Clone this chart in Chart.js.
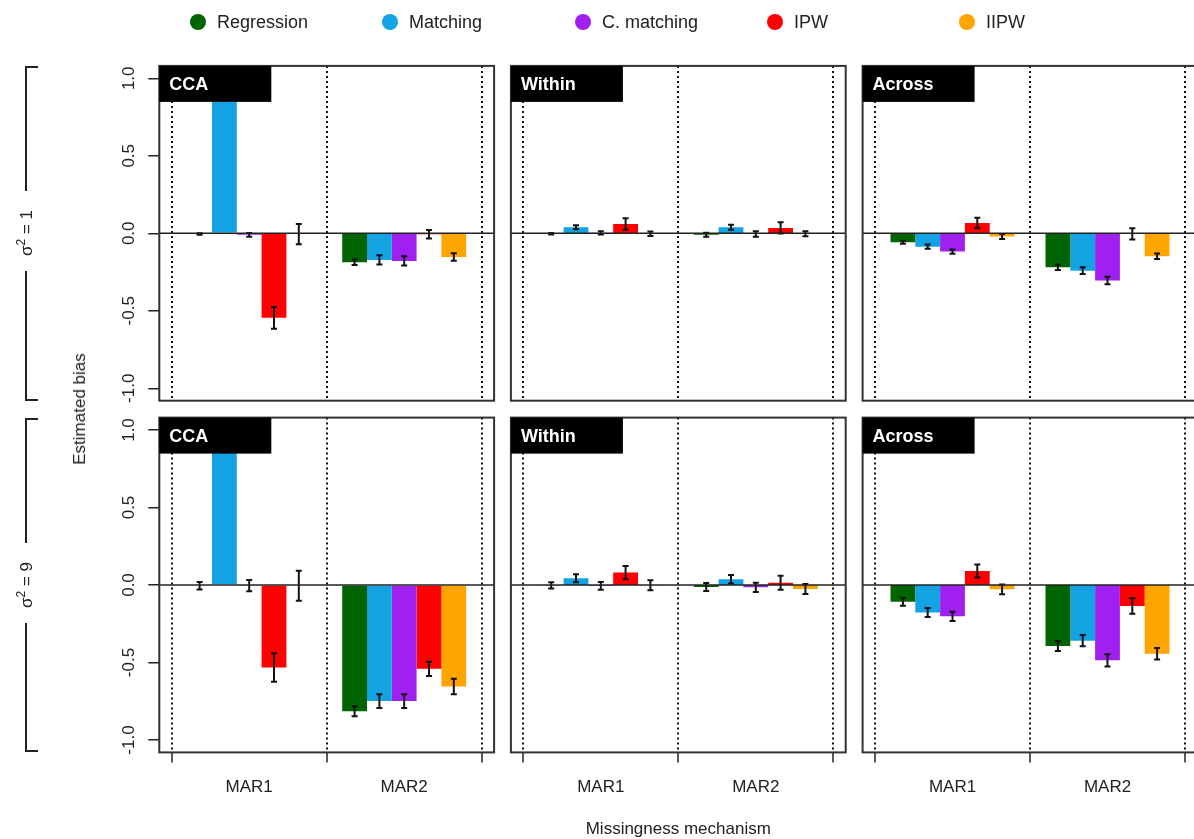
<!DOCTYPE html>
<html>
<head>
<meta charset="utf-8">
<script src="https://cdn.jsdelivr.net/npm/chart.js@4.4.1/dist/chart.umd.min.js"></script>
<style>
html,body{margin:0;padding:0;background:#fff;width:1194px;height:839px;overflow:hidden;font-family:"Liberation Sans",Arial,sans-serif;color:#222}
#stage{position:relative;width:1194px;height:839px;overflow:hidden}
canvas.panel{position:absolute;left:0;top:0}
.legtxt{position:absolute;font-size:18px;line-height:20px;white-space:nowrap;transform:translateY(-50%)}
.dot{position:absolute;width:16px;height:16px;border-radius:50%;transform:translate(-50%,-50%)}
.rot{position:absolute;transform:translate(-50%,-50%) rotate(-90deg);white-space:nowrap;font-size:17px;line-height:20px}
.rot sup{font-size:12px;line-height:0}
.lab{position:absolute;transform:translate(-50%,-50%);white-space:nowrap;font-size:17px}
.seg{position:absolute;box-sizing:border-box;border-color:#222;border-style:solid;border-width:0}
</style>
</head>
<body>
<div id="stage"></div>
<script>
// ---------------- DATA ----------------
const methods = ['Regression', 'Matching', 'C. matching', 'IPW', 'IIPW'];
const mechanisms = ['MAR1', 'MAR2'];
const panelTitles = ['CCA', 'Within', 'Across'];
const varianceValues = ['1', '9'];
const yTickValues = [-1, -0.5, 0, 0.5, 1];
const yTickLabels = ['-1.0', '-0.5', '0.0', '0.5', '1.0'];
const xTickValues = [0, 1, 2];
const xAxisTitle = 'Missingness mechanism';
const yAxisTitle = 'Estimated bias';

// estimated bias per method: [MAR1, MAR2]
const bias_s1_CCA    = [[-0.005, -0.187], [1.30, -0.172], [-0.010, -0.178], [-0.545, -0.006], [-0.005, -0.153]];
const se_s1_CCA      = [[0.005, 0.018], [0.05, 0.030], [0.012, 0.030], [0.070, 0.028], [0.065, 0.024]];
const bias_s1_Within = [[-0.003, -0.010], [0.039, 0.039], [0.003, -0.005], [0.060, 0.035], [-0.003, -0.003]];
const se_s1_Within   = [[0.005, 0.013], [0.013, 0.016], [0.010, 0.018], [0.037, 0.037], [0.015, 0.016]];
const bias_s1_Across = [[-0.058, -0.219], [-0.086, -0.241], [-0.118, -0.305], [0.067, -0.004], [-0.020, -0.148]];
const se_s1_Across   = [[0.010, 0.018], [0.014, 0.022], [0.014, 0.024], [0.034, 0.036], [0.016, 0.018]];
const bias_s9_CCA    = [[-0.005, -0.814], [1.30, -0.749], [-0.004, -0.749], [-0.532, -0.541], [-0.005, -0.655]];
const se_s9_CCA      = [[0.024, 0.032], [0.05, 0.044], [0.037, 0.044], [0.092, 0.046], [0.097, 0.050]];
const bias_s9_Within = [[-0.002, -0.013], [0.043, 0.037], [-0.005, -0.015], [0.080, 0.015], [-0.002, -0.026]];
const se_s9_Within   = [[0.020, 0.026], [0.026, 0.027], [0.025, 0.030], [0.043, 0.045], [0.032, 0.032]];
const bias_s9_Across = [[-0.108, -0.394], [-0.178, -0.359], [-0.202, -0.486], [0.090, -0.135], [-0.028, -0.443]];
const se_s9_Across   = [[0.026, 0.032], [0.029, 0.036], [0.030, 0.040], [0.042, 0.050], [0.032, 0.037]];

// ---------------- STYLE / LAYOUT ----------------
const colors = ['#006400', '#13A3E3', '#A020F0', '#FF0000', '#FFA500'];
const CW = 1230, CH = 839;
const colZero = [171.7, 523.3, 875.0];   // page x of value 0 on x-axis
const rowZero = [233.3, 585.0];          // page y of value 0 on y-axis
const unitPx = 155;
const X_MIN = -0.08, X_MAX = 2.08, Y_MIN = -1.08, Y_MAX = 1.08;
const legendX = [198, 390, 583, 775, 967];
const legendY = 22;

const panelBias = [[bias_s1_CCA, bias_s1_Within, bias_s1_Across], [bias_s9_CCA, bias_s9_Within, bias_s9_Across]];
const panelSE = [[se_s1_CCA, se_s1_Within, se_s1_Across], [se_s9_CCA, se_s9_Within, se_s9_Across]];

const stage = document.getElementById('stage');
const FONT = '"Liberation Sans", Arial, sans-serif';

const decoPlugin = {
  id: 'deco',
  afterDatasetsDraw(chart, args, opts) {
    const {ctx, chartArea: a, scales: {x, y}} = chart;
    ctx.save();
    ctx.beginPath();
    ctx.rect(a.left, a.top, a.right - a.left, a.bottom - a.top);
    ctx.clip();
    // error bars
    chart.data.datasets.forEach((ds, k) => {
      const meta = chart.getDatasetMeta(k);
      meta.data.forEach((bar, i) => {
        const v = ds.data[i].y, e = ds.errors[i];
        const y1 = y.getPixelForValue(v - e), y2 = y.getPixelForValue(v + e);
        ctx.strokeStyle = '#111';
        ctx.lineWidth = 2;
        ctx.beginPath();
        ctx.moveTo(bar.x, y1); ctx.lineTo(bar.x, y2);
        ctx.moveTo(bar.x - 3, y1); ctx.lineTo(bar.x + 3, y1);
        ctx.moveTo(bar.x - 3, y2); ctx.lineTo(bar.x + 3, y2);
        ctx.stroke();
      });
    });
    // zero line
    const y0 = y.getPixelForValue(0);
    ctx.strokeStyle = '#222';
    ctx.lineWidth = 1.6;
    ctx.beginPath(); ctx.moveTo(a.left, y0); ctx.lineTo(a.right, y0); ctx.stroke();
    ctx.restore();

    // panel box
    ctx.save();
    ctx.strokeStyle = '#333';
    ctx.lineWidth = 2;
    ctx.strokeRect(a.left, a.top, a.right - a.left, a.bottom - a.top);
    // title strip
    ctx.fillStyle = '#000';
    ctx.fillRect(a.left, a.top, 112, 36);
    ctx.fillStyle = '#fff';
    ctx.font = 'bold 18px ' + FONT;
    ctx.textAlign = 'left';
    ctx.textBaseline = 'middle';
    ctx.fillText(opts.title, a.left + 10, a.top + 19);
    // y tick labels (rotated)
    ctx.fillStyle = '#222';
    ctx.font = '17px ' + FONT;
    if (opts.showY) {
      y.ticks.forEach((t) => {
        const py = y.getPixelForValue(t.value);
        ctx.save();
        ctx.translate(a.left - 30, py);
        ctx.rotate(-Math.PI / 2);
        ctx.textAlign = 'center';
        ctx.textBaseline = 'middle';
        ctx.fillText(yTickLabels[yTickValues.indexOf(t.value)], 0, 0);
        ctx.restore();
      });
    }
    // category labels
    if (opts.showX) {
      ctx.textAlign = 'center';
      ctx.textBaseline = 'middle';
      mechanisms.forEach((m, i) => {
        ctx.fillText(m, x.getPixelForValue(i + 0.5), a.bottom + 35);
      });
    }
    ctx.restore();
  }
};

function makePanel(r, c) {
  const bias = panelBias[r][c], se = panelSE[r][c];
  const boxLeft = colZero[c] + X_MIN * unitPx;
  const boxTop = rowZero[r] - Y_MAX * unitPx;
  const W = (X_MAX - X_MIN) * unitPx, H = (Y_MAX - Y_MIN) * unitPx;
  const showY = c === 0, showX = r === 1;
  const yAxisW = showY ? 11 : 0, xAxisH = showX ? 10 : 0;
  const cv = document.createElement('canvas');
  cv.className = 'panel';
  cv.width = CW; cv.height = CH;
  cv.style.width = CW + 'px'; cv.style.height = CH + 'px';
  stage.appendChild(cv);
  new Chart(cv, {
    type: 'bar',
    data: {
      datasets: methods.map((m, k) => ({
        label: m,
        data: mechanisms.map((_, i) => ({x: i + 0.5, y: bias[k][i]})),
        errors: se[k],
        backgroundColor: colors[k],
        borderWidth: 0,
        categoryPercentage: 0.8,
        barPercentage: 1.0
      }))
    },
    options: {
      responsive: false,
      animation: false,
      devicePixelRatio: 1,
      events: [],
      layout: {padding: {
        left: boxLeft - yAxisW,
        top: boxTop,
        right: CW - (boxLeft + W),
        bottom: CH - (boxTop + H) - xAxisH
      }},
      plugins: {legend: {display: false}, tooltip: {enabled: false},
        deco: {title: panelTitles[c], showY, showX}},
      scales: {
        x: {
          type: 'linear', min: X_MIN, max: X_MAX, offset: false,
          afterBuildTicks: (s) => { s.ticks = xTickValues.map(v => ({value: v})); },
          ticks: {display: false},
          grid: {display: true, offset: false, drawOnChartArea: true, drawTicks: showX, tickLength: 10,
                 color: '#111', lineWidth: 2, tickColor: '#222', tickWidth: 1.5},
          border: {display: false, dash: [2, 3]}
        },
        y: {
          type: 'linear', min: Y_MIN, max: Y_MAX, display: showY,
          afterBuildTicks: (s) => { s.ticks = yTickValues.map(v => ({value: v})); },
          ticks: {display: false},
          grid: {drawOnChartArea: false, drawTicks: true, tickLength: 11, color: '#222', lineWidth: 1.5},
          border: {display: false}
        }
      }
    },
    plugins: [decoPlugin]
  });
}

for (let r = 0; r < 2; r++) for (let c = 0; c < 3; c++) makePanel(r, c);

// ---------------- HTML TEXT ----------------
function addEl(cls, html, styles) {
  const d = document.createElement('div');
  d.className = cls;
  d.innerHTML = html;
  Object.assign(d.style, styles);
  stage.appendChild(d);
  return d;
}
// legend
methods.forEach((m, k) => {
  addEl('dot', '', {left: legendX[k] + 'px', top: legendY + 'px', background: colors[k]});
  addEl('legtxt', m, {left: (legendX[k] + 19) + 'px', top: legendY + 'px'});
});
// axis titles
const plotTop = rowZero[0] - Y_MAX * unitPx;
const plotBottom = rowZero[1] - Y_MIN * unitPx;
addEl('rot', yAxisTitle, {left: '80px', top: ((plotTop + plotBottom) / 2) + 'px'});
addEl('lab', xAxisTitle, {left: (colZero[1] + 1 * unitPx) + 'px', top: '829px'});
// variance strips with brackets
varianceValues.forEach((v, r) => {
  const top = rowZero[r] - Y_MAX * unitPx;
  const bottom = rowZero[r] - Y_MIN * unitPx;
  const mid = (top + bottom) / 2;
  addEl('rot', 'σ<sup>2</sup> = ' + v, {left: '27px', top: mid + 'px'});
  addEl('seg', '', {left: '25px', top: top + 'px', width: '13px', height: (mid - 42 - top) + 'px',
    borderLeftWidth: '2px', borderTopWidth: '2px'});
  addEl('seg', '', {left: '25px', top: (mid + 38) + 'px', width: '13px', height: (bottom - mid - 38) + 'px',
    borderLeftWidth: '2px', borderBottomWidth: '2px'});
});
</script>
</body>
</html>
